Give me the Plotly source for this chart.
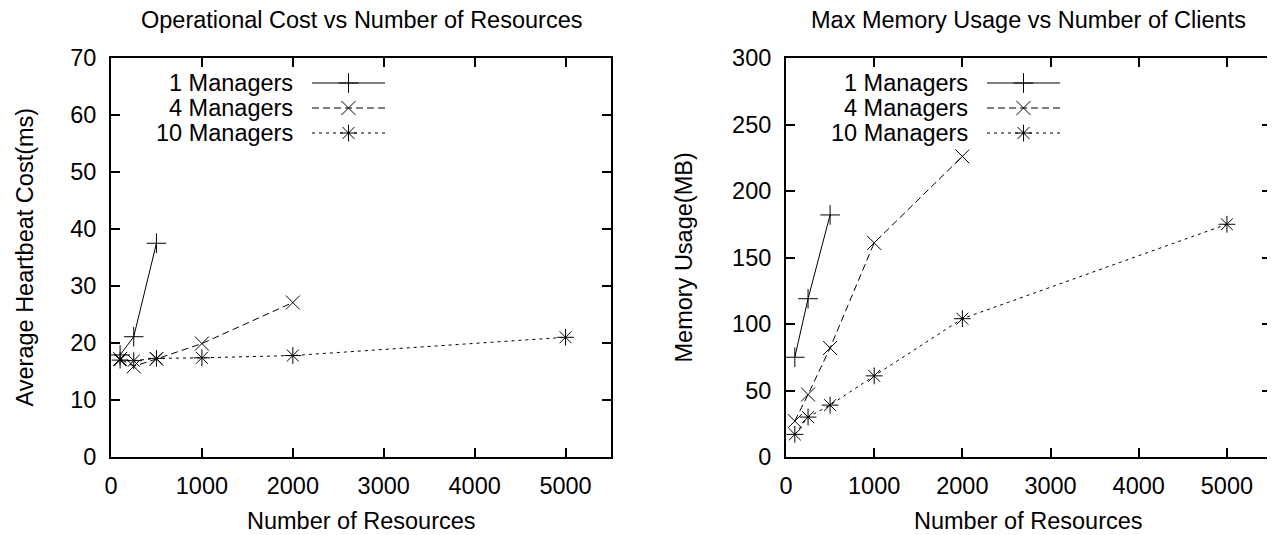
import plotly.graph_objects as go

# browser window size; the page body has an 8px margin, so the figure is drawn 8px smaller
WIN_W, WIN_H = 1275, 535
OFF = 8
W, H = WIN_W - OFF, WIN_H - OFF

# ---- data ----
series_names = ["1 Managers", "4 Managers", "10 Managers"]
x_1 = [100, 250, 500]
x_4 = [100, 250, 500, 1000, 2000]
x_10 = [100, 250, 500, 1000, 2000, 5000]

cost_1 = [17.9, 21.1, 37.5]
cost_4 = [17.2, 15.9, 17.2, 19.9, 27.1]
cost_10 = [17.0, 16.9, 17.3, 17.4, 17.8, 21.0]

mem_1 = [75, 119, 182]
mem_4 = [27, 47, 82, 161, 226]
mem_10 = [17, 30, 39, 61, 104, 175]

left_title = "Operational Cost vs Number of Resources"
right_title = "Max Memory Usage vs Number of Clients"
x_label = "Number of Resources"
left_ylabel = "Average Heartbeat Cost(ms)"
right_ylabel = "Memory Usage(MB)"
x_ticks = [0, 1000, 2000, 3000, 4000, 5000]
left_yticks = [0, 10, 20, 30, 40, 50, 60, 70]
right_yticks = [0, 50, 100, 150, 200, 250, 300]

# ---- styles ----
FONT = "Liberation Sans, Arial, Helvetica, sans-serif"
FS = 23.5
styles = [
    dict(symbol="cross-thin-open", dash="solid"),
    dict(symbol="x-thin-open", dash="7px,4px"),
    dict(symbol="asterisk-open", dash="3px,4px"),
]

# plot areas in page pixels (left, right, top, bottom)
L = (111, 611, 58, 457)
R = (786, 1271, 58, 457)

def dom_x(a):
    return [(a[0] - OFF) / W, (a[1] - OFF) / W]

def dom_y(a):
    return [1 - (a[3] - OFF) / H, 1 - (a[2] - OFF) / H]

fig = go.Figure()

left_data = [(x_1, cost_1), (x_4, cost_4), (x_10, cost_10)]
right_data = [(x_1, mem_1), (x_4, mem_4), (x_10, mem_10)]

for axes, data in ((("x", "y"), left_data), (("x2", "y2"), right_data)):
    for (xs, ys), st, nm in zip(data, styles, series_names):
        fig.add_trace(go.Scatter(x=xs, y=ys, mode="lines+markers", name=nm, xaxis=axes[0], yaxis=axes[1],
                                 line=dict(color="black", width=1, dash=st["dash"]),
                                 marker=dict(symbol=st["symbol"], size=14, color="black",
                                             line=dict(color="black", width=1)),
                                 showlegend=False, cliponaxis=False))

# legend keys drawn on a hidden page-pixel overlay axis
row_y = [83, 108, 133]
annotations = []
txt_font = dict(family=FONT, size=FS, color="black")
for area in (L, R):
    text_right = area[0] + 184
    line_x0 = area[0] + 201
    line_x1 = area[0] + 274
    mid = (line_x0 + line_x1) / 2
    for nm, st, yy in zip(series_names, styles, row_y):
        fig.add_trace(go.Scatter(x=[line_x0, line_x1], y=[yy, yy], mode="lines", xaxis="x3", yaxis="y3",
                                 line=dict(color="black", width=1, dash=st["dash"]),
                                 showlegend=False, hoverinfo="skip"))
        fig.add_trace(go.Scatter(x=[mid], y=[yy], mode="markers", xaxis="x3", yaxis="y3",
                                 marker=dict(symbol=st["symbol"], size=14, color="black",
                                             line=dict(color="black", width=1)),
                                 showlegend=False, hoverinfo="skip"))
        annotations.append(dict(x=text_right, y=yy, xref="x3", yref="y3", text=nm, showarrow=False,
                                xanchor="right", yanchor="middle", font=txt_font))

for area, t, yl, ylx in ((L, left_title, left_ylabel, 24), (R, right_title, right_ylabel, 683)):
    cx = (area[0] + area[1]) / 2
    cy = (area[2] + area[3]) / 2
    annotations.append(dict(x=cx, y=20, xref="x3", yref="y3", text=t, showarrow=False,
                            xanchor="center", yanchor="middle", font=txt_font))
    annotations.append(dict(x=cx, y=521, xref="x3", yref="y3", text=x_label, showarrow=False,
                            xanchor="center", yanchor="middle", font=txt_font))
    annotations.append(dict(x=ylx, y=cy, xref="x3", yref="y3", text=yl, showarrow=False, textangle=-90,
                            xanchor="center", yanchor="middle", font=txt_font))

axis_common = dict(showgrid=False, zeroline=False, showline=True, linecolor="black", linewidth=2,
                   ticks="inside", ticklen=9, tickwidth=2, tickcolor="black", mirror="ticks",
                   automargin=False, tickfont=txt_font)

fig.update_layout(
    width=W, height=H,
    margin=dict(l=0, r=0, t=0, b=0, autoexpand=False),
    paper_bgcolor="white", plot_bgcolor="rgba(0,0,0,0)",
    font=txt_font,
    xaxis=dict(domain=dom_x(L), range=[0, 5500], tickvals=x_ticks, anchor="y",
               ticklabelstandoff=7, **axis_common),
    yaxis=dict(domain=dom_y(L), range=[0, 70], tickvals=left_yticks, anchor="x",
               ticklabelstandoff=8, **axis_common),
    xaxis2=dict(domain=dom_x(R), range=[0, 5500], tickvals=x_ticks, anchor="y2",
                ticklabelstandoff=7, **axis_common),
    yaxis2=dict(domain=dom_y(R), range=[0, 300], tickvals=right_yticks, anchor="x2",
                ticklabelstandoff=8, **axis_common),
    xaxis3=dict(domain=[0, 1], range=[OFF, WIN_W], visible=False, anchor="y3", fixedrange=True, automargin=False),
    yaxis3=dict(domain=[0, 1], range=[WIN_H, OFF], visible=False, anchor="x3", fixedrange=True, automargin=False),
    annotations=annotations,
    showlegend=False,
)

fig.write_html("out.html")
